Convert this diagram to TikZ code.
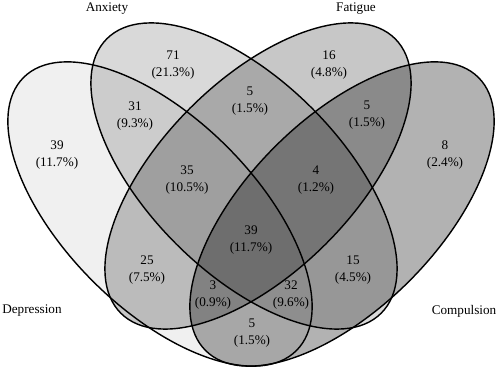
\documentclass[tikz,border=0pt]{standalone}
\usepackage{fontspec}
\setmainfont{Liberation Serif}

\begin{document}
\begin{tikzpicture}
[x=0.02cm,y=0.02cm,
 set/.style = {draw=black, line width=0.8pt},
 shade/.style = {fill=black, fill opacity=#1},
 cnt/.style = {font=\fontsize{7.5}{9.3}\selectfont, align=center, inner sep=0pt},
 title/.style = {font=\fontsize{7.5}{9}\selectfont, inner sep=0pt},]
\useasboundingbox (0,0) rectangle (500,375);
\fill[white] (0,0) rectangle (500,375);
% ellipse centres
\coordinate (Dep) at (160,161);
\coordinate (Anx) at (244,199);
\coordinate (Fat) at (258,199);
\coordinate (Com) at (342,161);
% fills
\fill[shade=0.06, rotate around={-45:(Dep)}] (Dep) ellipse [x radius=193, y radius=95];
\fill[shade=0.15, rotate around={-45:(Anx)}] (Anx) ellipse [x radius=194, y radius=96];
\fill[shade=0.22, rotate around={45:(Fat)}] (Fat) ellipse [x radius=194, y radius=96];
\fill[shade=0.30, rotate around={45:(Com)}] (Com) ellipse [x radius=193, y radius=95];
% outlines
\draw[set, rotate around={-45:(Dep)}] (Dep) ellipse [x radius=193, y radius=95];
\draw[set, rotate around={-45:(Anx)}] (Anx) ellipse [x radius=194, y radius=96];
\draw[set, rotate around={45:(Fat)}] (Fat) ellipse [x radius=194, y radius=96];
\draw[set, rotate around={45:(Com)}] (Com) ellipse [x radius=193, y radius=95];
% set names
\node (anxiety) at (107,366)[title] {Anxiety};
\node (fatigue) at (356,366)[title] {Fatigue};
\node (depression) at (32,64)[title] {Depression};
\node (compulsion) at (464,64)[title] {Compulsion};
% counts
\node (d) at (57,220)[cnt] {39\\(11.7\%)};
\node (a) at (173,310)[cnt] {71\\(21.3\%)};
\node (f) at (329,310)[cnt] {16\\(4.8\%)};
\node (c) at (445,220)[cnt] {8\\(2.4\%)};
\node (da) at (135,259)[cnt] {31\\(9.3\%)};
\node (af) at (250,274)[cnt] {5\\(1.5\%)};
\node (fc) at (367,260)[cnt] {5\\(1.5\%)};
\node (daf) at (187,195)[cnt] {35\\(10.5\%)};
\node (afc) at (316,195)[cnt] {4\\(1.2\%)};
\node (dafc) at (251,135)[cnt] {39\\(11.7\%)};
\node (df) at (147,105)[cnt] {25\\(7.5\%)};
\node (ac) at (353,105)[cnt] {15\\(4.5\%)};
\node (dac) at (213,80)[cnt] {3\\(0.9\%)};
\node (dfc) at (291,80)[cnt] {32\\(9.6\%)};
\node (dc) at (252,42)[cnt] {5\\(1.5\%)};
\end{tikzpicture}
\end{document}
